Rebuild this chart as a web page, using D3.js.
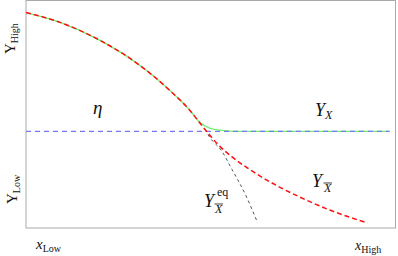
<!DOCTYPE html>
<html>
<head>
<meta charset="utf-8">
<script src="https://cdn.jsdelivr.net/npm/d3@7"></script>
<style>
  body { margin: 0; background: #fff; }
  svg { display: block; }
  text { font-family: "Liberation Serif", "Times New Roman", Times, serif; fill: #111; }
</style>
</head>
<body>
<div id="chart"></div>
<script>
// values (arbitrary 0..100 units on both axes)
var xRed   = [0, 9.2, 20.0, 30.8, 38.9, 44.3, 48.4, 52.4, 56.2, 60.0, 68.6, 74.1, 82.2, 92.4];
var yRed   = [94.7, 90.4, 82.5, 71.5, 60.5, 51.8, 43.4, 36.0, 30.7, 26.3, 18.0, 13.6, 7.9, 2.2];
var xGreen = [0, 9.2, 20.0, 30.8, 38.9, 44.3, 47.0, 49.7, 52.4, 56.5, 98.4];
var yGreen = [94.7, 90.4, 82.5, 71.5, 60.5, 51.8, 46.5, 43.9, 43.0, 42.5, 42.5];
var xEq    = [48.4, 49.7, 53.0, 55.4, 59.7, 62.7];
var yEq    = [43.4, 39.9, 33.8, 26.8, 13.6, 2.2];
var xEta   = [0, 98.4];
var yEta   = [42.5, 42.5];

var svgWidth = 398, svgHeight = 256;
var margin = {top: 0.5, right: 2.5, bottom: 28, left: 26};
var width = svgWidth - margin.left - margin.right;
var height = svgHeight - margin.top - margin.bottom;

var svg = d3.select("#chart").append("svg")
    .attr("width", svgWidth)
    .attr("height", svgHeight);

var chartGroup = svg.append("g")
    .attr("transform", `translate(${margin.left}, ${margin.top})`);

var x = d3.scaleLinear().domain([0, 100]).range([0, width]);
var y = d3.scaleLinear().domain([0, 100]).range([height, 0]);

// frame
chartGroup.append("rect")
    .attr("x", 0).attr("y", 0)
    .attr("width", width).attr("height", height)
    .attr("fill", "none")
    .attr("stroke", "#aaa")
    .attr("stroke-width", 1);

function pts(xs, ys) { return xs.map((v, i) => [v, ys[i]]); }
var line = d3.line()
    .x(d => x(d[0]))
    .y(d => y(d[1]))
    .curve(d3.curveMonotoneX);

chartGroup.append("path")
    .attr("d", line(pts(xGreen, yGreen)))
    .attr("fill", "none").attr("stroke", "#6ef06e").attr("stroke-width", 1.3);

chartGroup.append("path")
    .attr("d", line(pts(xEta, yEta)))
    .attr("fill", "none").attr("stroke", "#7878ee").attr("stroke-width", 1.3)
    .attr("stroke-dasharray", "5,4");

chartGroup.append("path")
    .attr("d", line(pts(xEq, yEq)))
    .attr("fill", "none").attr("stroke", "#555").attr("stroke-width", 1)
    .attr("stroke-dasharray", "3,3");

chartGroup.append("path")
    .attr("d", line(pts(xRed, yRed)))
    .attr("fill", "none").attr("stroke", "#ff1010").attr("stroke-width", 1.5)
    .attr("stroke-dasharray", "5,3");

// axis labels
function subLabel(g, main, sub, size, subSize, italicMain) {
    var t = g.append("text").attr("font-size", size);
    t.append("tspan").attr("font-style", italicMain ? "italic" : "normal").text(main);
    t.append("tspan").attr("font-size", subSize).attr("dy", size * 0.22).text(sub);
    return t;
}

subLabel(svg.append("g").attr("transform", "translate(15,54) rotate(-90)"), "Y", "High", 15, 10, false);
subLabel(svg.append("g").attr("transform", "translate(17,204) rotate(-90)"), "Y", "Low", 15, 10, false);
subLabel(svg.append("g").attr("transform", "translate(36,249)"), "x", "Low", 15, 10, true);
subLabel(svg.append("g").attr("transform", "translate(355,250)"), "x", "High", 14, 10, true);

// curve labels
svg.append("text").attr("x", 93).attr("y", 114)
    .attr("font-size", 19).attr("font-style", "italic").text("η");

var yx = svg.append("text").attr("x", 315).attr("y", 116).attr("font-size", 18).attr("font-style", "italic");
yx.append("tspan").text("Y");
yx.append("tspan").attr("font-size", 12).attr("dy", 3).text("X");

function barX(px, py, size) {
    var t = svg.append("text").attr("x", px).attr("y", py)
        .attr("font-size", size).attr("font-style", "italic").text("X");
    var b = t.node().getBBox();
    svg.append("line")
        .attr("x1", b.x + 0.5).attr("x2", b.x + b.width)
        .attr("y1", b.y + 2).attr("y2", b.y + 2)
        .attr("stroke", "#111").attr("stroke-width", 0.8);
}

svg.append("text").attr("x", 312).attr("y", 187)
    .attr("font-size", 18).attr("font-style", "italic").text("Y");
barX(324, 192, 12);

svg.append("text").attr("x", 204).attr("y", 207)
    .attr("font-size", 18).attr("font-style", "italic").text("Y");
svg.append("text").attr("x", 217).attr("y", 196)
    .attr("font-size", 12).text("eq");
barX(215, 213, 12);
</script>
</body>
</html>
